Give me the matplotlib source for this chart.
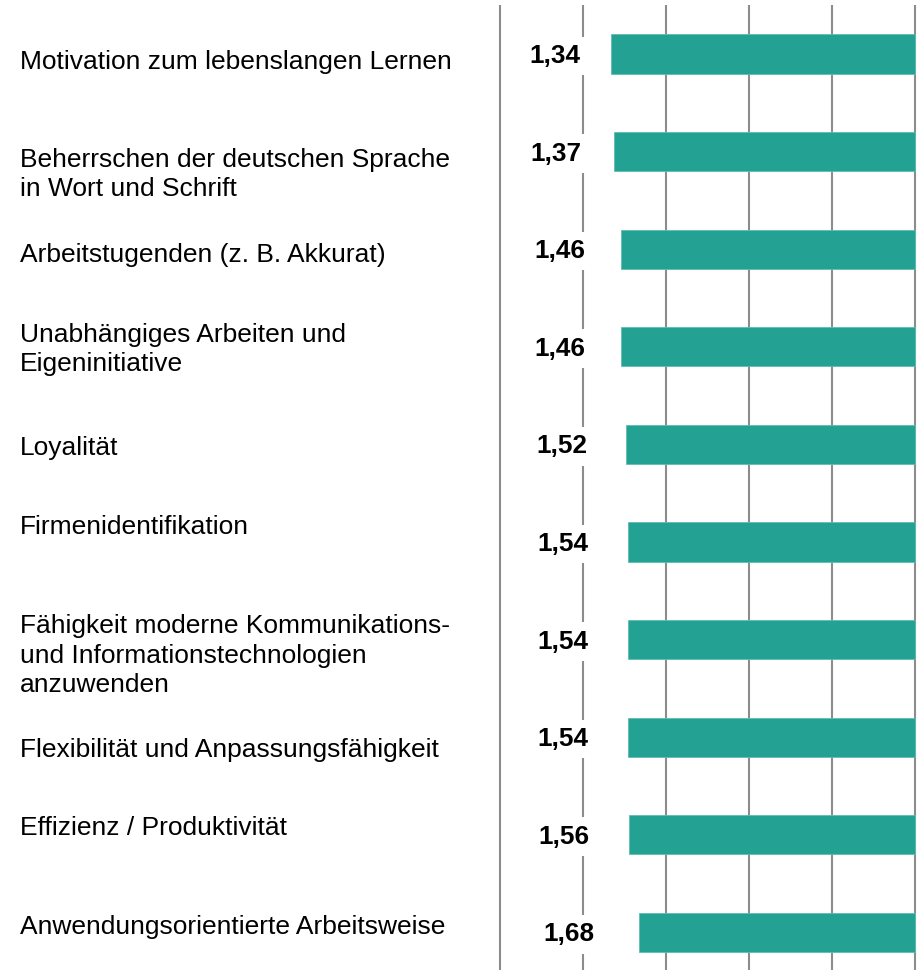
import numpy as np
import matplotlib
matplotlib.use("Agg")
import matplotlib.pyplot as plt

plt.rcParams['font.family'] = ['Liberation Sans', 'DejaVu Sans']

categories = [
    "Motivation zum lebenslangen Lernen",
    "Beherrschen der deutschen Sprache\nin Wort und Schrift",
    "Arbeitstugenden (z. B. Akkurat)",
    "Unabhängiges Arbeiten und\nEigeninitiative",
    "Loyalität",
    "Firmenidentifikation",
    "Fähigkeit moderne Kommunikations-\nund Informationstechnologien\nanzuwenden",
    "Flexibilität und Anpassungsfähigkeit",
    "Effizienz / Produktivität",
    "Anwendungsorientierte Arbeitsweise",
]
values = [1.34, 1.37, 1.46, 1.46, 1.52, 1.54, 1.54, 1.54, 1.56, 1.68]
value_labels = ["1,34", "1,37", "1,46", "1,46", "1,52", "1,54", "1,54", "1,54", "1,56", "1,68"]
scale_max = 5
grid_ticks = [0, 1, 2, 3, 4, 5]

# vertical nudges of the category labels (in row units), as in the original layout
label_shift = np.array([8, 23, 6, 3, 4, -15, 16, 13, -7, -5]) / 97.6

fig = plt.figure(figsize=(9.17, 9.75), dpi=100)
ax = fig.add_axes([0, 0, 1, 1])
ax.axis("off")
ax.set_xlim(-500 / 83, 417 / 83)
ax.set_ylim(921 / 97.6, -54 / 97.6)

rows = np.arange(len(values))
vals = np.array(values)

ax.vlines(grid_ticks, -0.50, 9.39, color="#8c8c8c", lw=1.5, zorder=1)
ax.barh(rows, scale_max - vals, left=vals, height=0.40, color="#23a193",
        edgecolor="#5fbdb2", linewidth=0.6, zorder=3)

for i in rows:
    ax.text(vals[i] / 2 - 0.01, i + 0.02, value_labels[i], ha="center", va="center",
            fontsize=18.8, fontweight="bold", color="black", zorder=4,
            bbox=dict(boxstyle="square,pad=0.28", fc="white", ec="none"))
    ax.text(-500 / 83 + 20 / 83, i + label_shift[i], categories[i], ha="left",
            va="center", fontsize=19, color="black", linespacing=1.28)

fig.savefig("out.png", dpi=100)
